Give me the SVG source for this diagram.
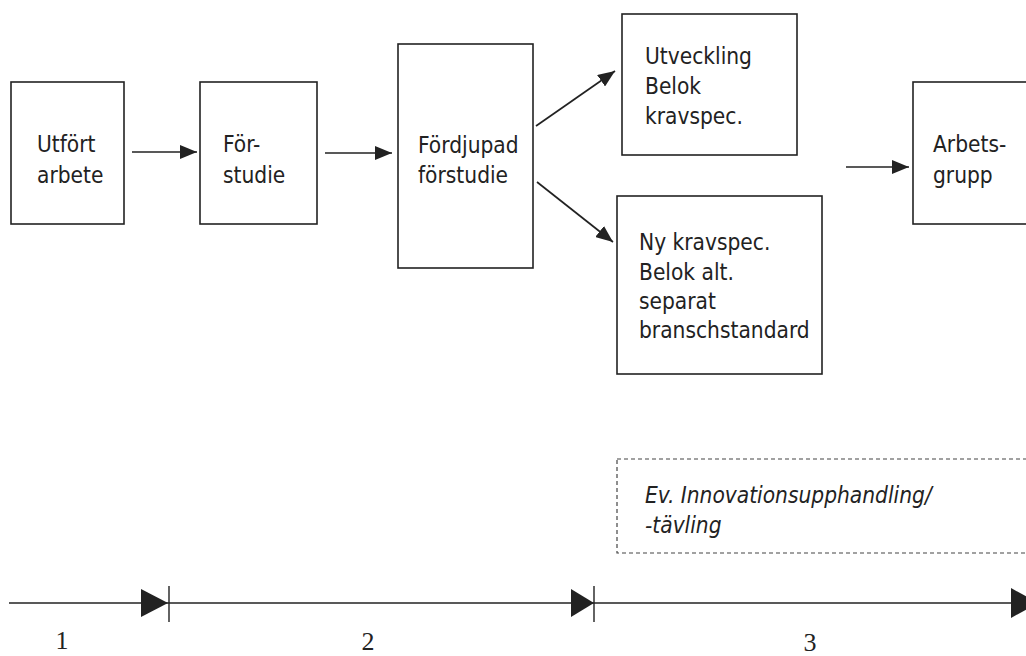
<svg xmlns="http://www.w3.org/2000/svg" width="1026" height="656" viewBox="0 0 1026 656">
<style>
.box{fill:#fff;stroke:#222;stroke-width:1.6}
.dash{fill:none;stroke:#444;stroke-width:1.2;stroke-dasharray:4 3}
.t{font-family:"DejaVu Sans Condensed","DejaVu Sans",sans-serif;font-stretch:condensed;font-size:22.5px;fill:#222}
.it{font-style:italic}
.num{font-family:"Liberation Serif",serif;font-size:26px;fill:#222;text-anchor:middle}
.con{stroke:#222;stroke-width:1.7;fill:none}
.tl{stroke:#222;stroke-width:1.4;fill:none}
</style>
<defs>
<marker id="ah" viewBox="0 0 17 14" refX="17" refY="7" markerWidth="17" markerHeight="14" markerUnits="userSpaceOnUse" orient="auto">
<path d="M0,0 L17,7 L0,14 Z" fill="#222"/>
</marker>
</defs>
<g id="connectors">
<line class="con" x1="132" y1="152" x2="197" y2="152" marker-end="url(#ah)"/>
<line class="con" x1="325" y1="153" x2="392" y2="153" marker-end="url(#ah)"/>
<line class="con" x1="536" y1="126" x2="615" y2="71" marker-end="url(#ah)"/>
<line class="con" x1="537" y1="182" x2="613" y2="242" marker-end="url(#ah)"/>
<line class="con" x1="846" y1="167" x2="909" y2="167" marker-end="url(#ah)"/>
</g>
<g id="n1"><rect class="box" x="11" y="82" width="113" height="142"/>
<text class="t" x="37" y="152">Utfört</text><text class="t" x="37" y="183">arbete</text></g>
<g id="n2"><rect class="box" x="200" y="82" width="117" height="142"/>
<text class="t" x="223" y="152">För-</text><text class="t" x="223" y="183">studie</text></g>
<g id="n3"><rect class="box" x="398" y="44" width="135" height="224"/>
<text class="t" x="418" y="153">Fördjupad</text><text class="t" x="418" y="183">förstudie</text></g>
<g id="n4"><rect class="box" x="622" y="14" width="175" height="141"/>
<text class="t" x="645" y="64">Utveckling</text><text class="t" x="645" y="94">Belok</text><text class="t" x="645" y="124">kravspec.</text></g>
<g id="n5"><rect class="box" x="617" y="196" width="205" height="178"/>
<text class="t" x="639" y="250">Ny kravspec.</text><text class="t" x="639" y="280">Belok alt.</text><text class="t" x="639" y="309">separat</text><text class="t" x="639" y="338">branschstandard</text></g>
<g id="n6"><rect class="box" x="913" y="82" width="130" height="142"/>
<text class="t" x="933" y="152">Arbets-</text><text class="t" x="933" y="183">grupp</text></g>
<g id="n7"><rect class="dash" x="617" y="459" width="430" height="94"/>
<text class="t it" x="645" y="503">Ev. Innovationsupphandling/</text><text class="t it" x="645" y="533">-tävling</text></g>
<g id="timeline">
<line class="tl" x1="9" y1="603" x2="1026" y2="603"/>
<line class="tl" x1="169" y1="586" x2="169" y2="622"/>
<line class="tl" x1="594" y1="586" x2="594" y2="622"/>
<path d="M141,589 L168,603 L141,617 Z" fill="#222"/>
<path d="M571,589 L594,603 L571,617 Z" fill="#222"/>
<path d="M1011,588 L1038,603 L1011,618 Z" fill="#222"/>
<text class="num" x="62" y="649">1</text>
<text class="num" x="368" y="650">2</text>
<text class="num" x="810" y="651">3</text>
</g>
</svg>
